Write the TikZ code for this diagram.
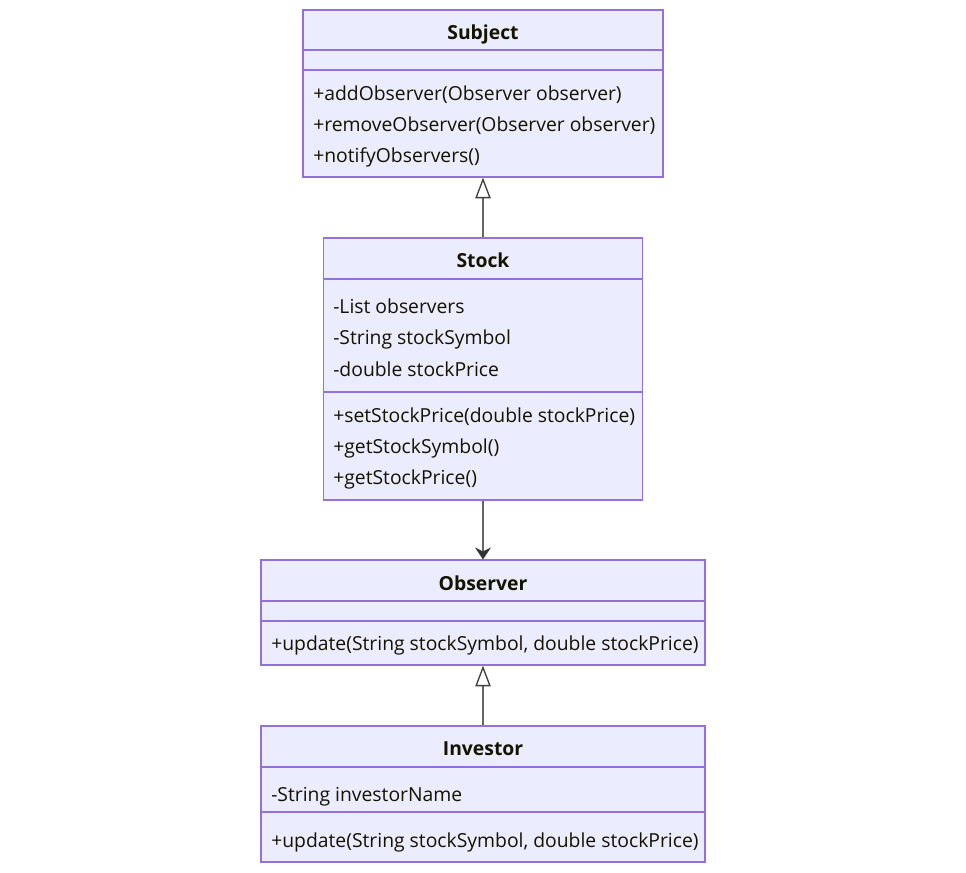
\documentclass[tikz,border=0pt]{standalone}
\usepackage{fontspec}
\setmainfont{Open Sans}
\usetikzlibrary{arrows.meta}
\definecolor{boxfill}{HTML}{ECECFF}
\definecolor{boxdraw}{HTML}{9370DB}
\definecolor{linegray}{HTML}{666666}
\definecolor{txt}{HTML}{131300}
\begin{document}
\begin{tikzpicture}[x=0.75pt,y=-0.75pt,
  classbox/.style={draw=boxdraw, fill=boxfill, line width=0.9pt, inner sep=0pt},
  divider/.style={draw=boxdraw, line width=0.9pt},
  title/.style={font=\bfseries\fontsize{14.5pt}{17pt}\selectfont, text=txt, inner sep=0pt, anchor=base},
  member/.style={font=\fontsize{14.5pt}{17pt}\selectfont, text=txt, anchor=base west, inner sep=0pt},
  inherit/.style={draw=linegray, line width=1pt, -{Triangle[open, length=15.5pt, width=11.5pt, fill=white, color=black!75]}},
  assoc/.style={draw=linegray, line width=1pt, -{Stealth[length=9pt, width=12pt, inset=3pt, color=black!80]}}
]
\useasboundingbox (0,0) rectangle (966,872);

% Subject
\node[classbox, minimum width=270pt, minimum height=125.25pt] (subject) at (483,93.5) {};
\draw[divider] (303,50) -- (663,50);
\draw[divider] (303,70) -- (663,70);
\node[title] (subjectT) at (483,39) {Subject};
\node[member] (s1) at (313,100) {+addObserver(Observer observer)};
\node[member] (s2) at (313,131) {+removeObserver(Observer observer)};
\node[member] (s3) at (313,162) {+notifyObservers()};

% Stock
\node[classbox, minimum width=239.25pt, minimum height=196.5pt] (stock) at (483,369) {};
\draw[divider] (323,279) -- (642,279);
\draw[divider] (323,392) -- (642,392);
\node[title] (stockT) at (483,267) {Stock};
\node[member] (t1) at (333,313) {-List observers};
\node[member] (t2) at (333,344) {-String stockSymbol};
\node[member] (t3) at (333,376) {-double stockPrice};
\node[member] (t4) at (333,422) {+setStockPrice(double stockPrice)};
\node[member] (t5) at (333,453) {+getStockSymbol()};
\node[member] (t6) at (333,484) {+getStockPrice()};

% Observer
\node[classbox, minimum width=333pt, minimum height=78.75pt] (observer) at (483,612.5) {};
\draw[divider] (261,601) -- (705,601);
\draw[divider] (261,621) -- (705,621);
\node[title] (observerT) at (483,590) {Observer};
\node[member] (o1) at (271,650) {+update(String stockSymbol, double stockPrice)};

% Investor
\node[classbox, minimum width=333pt, minimum height=102pt] (investor) at (483,794) {};
\draw[divider] (261,767) -- (705,767);
\draw[divider] (261,812) -- (705,812);
\node[title] (investorT) at (483,755) {Investor};
\node[member] (i1) at (271,801) {-String investorName};
\node[member] (i2) at (271,847) {+update(String stockSymbol, double stockPrice)};

% Connectors
\draw[inherit] (stock.north) -- (subject.south);
\draw[assoc] (stock.south) -- (observer.north);
\draw[inherit] (investor.north) -- (observer.south);
\end{tikzpicture}
\end{document}
